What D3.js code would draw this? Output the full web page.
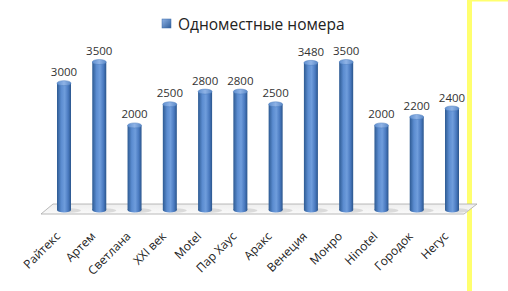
<!DOCTYPE html>
<html><head><meta charset="utf-8">
<script src="https://cdn.jsdelivr.net/npm/d3@7"></script>
<style>body{margin:0;background:#fff;}svg{display:block;}</style>
</head><body>
<script>
const categories = ["Райтекс","Артем","Светлана","XXI век","Motel","Пар Хаус","Аракс","Венеция","Монро","Hinotel","Городок","Негус"];
const values = [3000,3500,2000,2500,2800,2800,2500,3480,3500,2000,2200,2400];
const seriesName = "Одноместные номера";

const W = 508, H = 291;
const svg = d3.select("body").append("svg").attr("width", W).attr("height", H);
const defs = svg.append("defs");

const gCyl = defs.append("linearGradient").attr("id","cyl").attr("x1","0").attr("x2","1").attr("y1","0").attr("y2","0");
[["0%","#2d5a92"],["30%","#5b8cd0"],["55%","#6f9ddc"],["80%","#4a7ac0"],["100%","#2a558c"]].forEach(([o,c])=>gCyl.append("stop").attr("offset",o).attr("stop-color",c));
const gTop = defs.append("linearGradient").attr("id","cyltop").attr("x1","0").attr("x2","1").attr("y1","0").attr("y2","0");
[["0%","#5f8fcf"],["50%","#8fb3e6"],["100%","#5a88c6"]].forEach(([o,c])=>gTop.append("stop").attr("offset",o).attr("stop-color",c));
const gFloor = defs.append("linearGradient").attr("id","floor").attr("x1","0").attr("x2","0").attr("y1","0").attr("y2","1");
[["0%","#eeeeee"],["100%","#fafafa"]].forEach(([o,c])=>gFloor.append("stop").attr("offset",o).attr("stop-color",c));
const gLeg = defs.append("linearGradient").attr("id","leg").attr("x1","0").attr("x2","1").attr("y1","0").attr("y2","1");
[["0%","#8fb3e6"],["100%","#2f5d99"]].forEach(([o,c])=>gLeg.append("stop").attr("offset",o).attr("stop-color",c));

// yellow frame lines
svg.append("rect").attr("x",467).attr("y",0).attr("width",5).attr("height",H).attr("fill","#ffff6e");
svg.append("rect").attr("x",467).attr("y",0).attr("width",W-467).attr("height",1.5).attr("fill","#ffff6e");

const x = d3.scalePoint().domain(categories).range([64, 452]);
const y = d3.scaleLinear().domain([0, 3500]).range([210, 62]);
const bw = 14, ry = 2.5;

// floor
const floor = [[53,204],[477,204],[464,214],[41,214]];
svg.append("polygon").attr("points", floor.map(p=>p.join(",")).join(" "))
  .attr("fill","url(#floor)").attr("stroke","#a8a8a8").attr("stroke-width",0.8);

// shadows
svg.append("g").selectAll("ellipse").data(categories).join("ellipse")
  .attr("cx", d=>x(d)+6).attr("cy", 210.5).attr("rx", 11).attr("ry", 2.2).attr("fill","#cfcfcf").attr("opacity",0.7);

const bars = svg.append("g").selectAll("g").data(categories).join("g");
bars.append("ellipse").attr("cx", d=>x(d)).attr("cy", 210).attr("rx", bw/2).attr("ry", ry).attr("fill","url(#cyl)");
bars.append("rect").attr("x", d=>x(d)-bw/2).attr("y", (d,i)=>y(values[i])).attr("width", bw)
  .attr("height", (d,i)=>y(0)-y(values[i])).attr("fill","url(#cyl)");
bars.append("ellipse").attr("cx", d=>x(d)).attr("cy", (d,i)=>y(values[i])).attr("rx", bw/2).attr("ry", ry)
  .attr("fill","url(#cyltop)").attr("stroke","#4f7fbf").attr("stroke-width",0.5);

// value labels
svg.append("g").selectAll("text").data(categories).join("text")
  .attr("x", d=>x(d)).attr("y", (d,i)=>y(values[i]) - 7)
  .attr("text-anchor","middle").attr("font-family","'Open Sans'").attr("font-size",11.5)
  .attr("fill","#333").text((d,i)=>values[i]);

// category labels
svg.append("g").selectAll("text").data(categories).join("text")
  .attr("transform", d=>`translate(${x(d)-3},${237}) rotate(-45)`)
  .attr("text-anchor","end").attr("font-family","'Open Sans'").attr("font-size",12)
  .attr("fill","#222").text(d=>d);

// legend
const lg = svg.append("g");
lg.append("rect").attr("x",162).attr("y",19).attr("width",9).attr("height",9).attr("fill","url(#leg)").attr("stroke","#3a6aa8").attr("stroke-width",0.5);
lg.append("text").attr("x",178).attr("y",30).attr("font-family","'Open Sans'").attr("font-size",15.5).attr("fill","#222").text(seriesName);
</script>
</body></html>
